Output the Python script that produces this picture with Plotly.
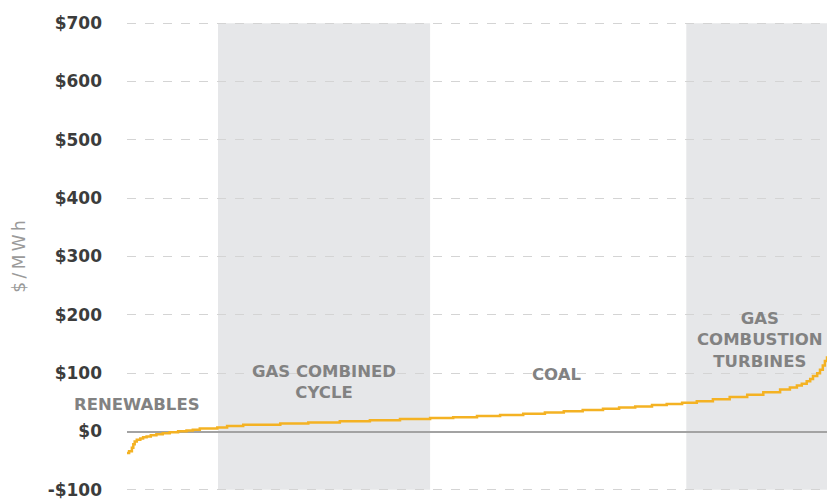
import plotly.graph_objects as go

# Supply curve: cumulative capacity share (%) vs. cost ($/MWh)
capacity_pct = [0.0, 0.3, 0.7, 0.9, 1.1, 1.4, 1.9, 2.3, 2.8, 3.4, 4.2, 5.1, 6.1, 7.3,
                8.5, 9.4, 10.4, 12.9, 14.3, 16.6, 21.9, 25.9, 30.4, 34.7, 39.0, 43.3,
                46.6, 50.0, 53.3, 56.6, 59.7, 62.4, 65.1, 68.0, 70.3, 72.6, 75.0, 77.1,
                79.3, 81.4, 83.7, 86.1, 88.6, 90.9, 93.3, 94.7, 95.7, 96.4, 97.1, 97.6,
                98.0, 98.6, 99.0, 99.4, 99.7, 100.0]
cost_usd_mwh = [-37, -34, -28, -22, -17, -14, -12, -10, -8.5, -6.5, -4.6, -3, -1.2, 0.3,
                1.7, 3, 5, 7, 9.5, 11.4, 13.6, 15.3, 17.6, 19.3, 21.5, 23,
                24.5, 26.5, 28.5, 30.5, 32.5, 34.6, 36.8, 39, 41, 43, 45.3, 47,
                49.4, 52, 55.5, 59, 63, 67.5, 72, 75.5, 79, 82, 86, 90,
                95, 100, 106, 113, 121, 129]

# Technology bands shaded on the capacity axis
band_starts = [13.0, 79.9]
band_ends = [43.3, 100.0]

# Technology labels
label_texts = ["RENEWABLES", "GAS COMBINED<br>CYCLE", "COAL", "GAS<br>COMBUSTION<br>TURBINES"]
label_x = [1.4, 28.1, 61.4, 90.4]
label_y = [47, 85, 97, 157]

tick_vals = [-100, 0, 100, 200, 300, 400, 500, 600, 700]
tick_text = ["-$100", "$0", "$100", "$200", "$300", "$400", "$500", "$600", "$700"]

fig = go.Figure()
fig.add_trace(go.Scatter(
    x=capacity_pct, y=cost_usd_mwh, mode="lines",
    line=dict(color="#f4b223", width=2.5, shape="hv"),
    hoverinfo="skip", showlegend=False,
))

for x0, x1 in zip(band_starts, band_ends):
    fig.add_shape(type="rect", xref="x", yref="y", x0=x0, x1=x1, y0=-100, y1=700,
                  fillcolor="#e6e7e9", line_width=0, layer="below")

for txt, x, y in zip(label_texts, label_x, label_y):
    fig.add_annotation(x=x, y=y, text=txt, showarrow=False, xanchor="center", yanchor="middle",
                       font=dict(family="DejaVu Sans", size=16.5, color="#828282", weight="bold"),
                       align="center")

fig.update_layout(
    width=827, height=500,
    margin=dict(l=127, r=0, t=22, b=6),
    paper_bgcolor="white", plot_bgcolor="white",
    showlegend=False,
)
fig.update_xaxes(range=[0, 100], showgrid=False, zeroline=False, showticklabels=False,
                 showline=False, ticks="")
fig.update_yaxes(
    range=[-102, 702], tickvals=tick_vals, ticktext=tick_text,
    showgrid=True, gridcolor="#d4d4d4", griddash="dash", gridwidth=1,
    zeroline=True, zerolinecolor="#a3a3a3", zerolinewidth=2,
    showline=False, ticks="", ticklabelstandoff=24, ticklabeloverflow="allow",
    tickfont=dict(family="DejaVu Sans", size=17, color="#3c3c3c", weight="bold"),
    title=dict(text="$\u2009/\u2009M\u2009W\u2009h", standoff=17,
               font=dict(family="DejaVu Sans", size=17, color="#9a9a9a")),
)

fig.write_html("out.html")
